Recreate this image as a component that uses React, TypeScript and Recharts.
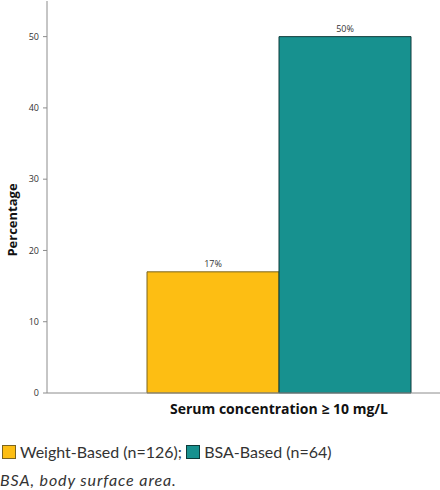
import React from 'react';
import { BarChart, Bar, XAxis, YAxis, LabelList } from 'recharts';

const categories = ['Serum concentration ≥ 10 mg/L'];
const weightBased = [17];
const bsaBased = [50];
const yTicks = [0, 10, 20, 30, 40, 50];
const seriesNames = ['Weight-Based (n=126);', 'BSA-Based (n=64)'];

const data = categories.map((c, i) => ({ name: c, weight: weightBased[i], bsa: bsaBased[i] }));

const YELLOW = '#FDBE13';
const TEAL = '#17918F';

const Swatch: React.FC<{ color: string; border: string }> = ({ color, border }) => (
  <span
    style={{
      display: 'inline-block',
      width: 12,
      height: 12,
      background: color,
      border: `1px solid ${border}`,
      marginRight: 4,
      verticalAlign: -1,
    }}
  />
);

const YLabel = () => (
  <text
    x={12}
    y={220}
    transform="rotate(-90 12 220)"
    textAnchor="middle"
    dominantBaseline="central"
    style={{ fontFamily: 'Open Sans', fontWeight: 700, fontSize: 13, fill: '#111' }}
  >
    Percentage
  </text>
);

export default function App() {
  return (
    <div style={{ position: 'absolute', left: 0, top: 0, width: 440, height: 490, overflow: 'hidden', background: '#fff' }}>
      <BarChart
        width={511}
        height={423}
        data={data}
        margin={{ top: 1, right: 0, bottom: 0, left: 0 }}
        barGap={0}
        barCategoryGap={100}
      >
        <YAxis
          width={47}
          domain={[0, 55]}
          ticks={yTicks}
          tickSize={4}
          tickMargin={4}
          axisLine={{ stroke: '#8c8c8c' }}
          tickLine={{ stroke: '#8c8c8c' }}
          tick={{ fill: '#333', fontSize: 9, fontFamily: 'Open Sans' }}
          label={<YLabel />}
        />
        <XAxis
          dataKey="name"
          height={30}
          axisLine={{ stroke: '#8c8c8c' }}
          tickLine={false}
          tick={{ fill: '#111', fontSize: 14, fontWeight: 700, fontFamily: 'Open Sans' }}
          tickMargin={5}
        />
        <Bar dataKey="weight" fill={YELLOW} stroke="#7a6420" strokeWidth={1} barSize={132} isAnimationActive={false}>
          <LabelList dataKey="weight" position="top" offset={5} formatter={(v: any) => `${v}%`} style={{ fill: '#333', fontSize: 9, fontFamily: 'Open Sans' }} />
        </Bar>
        <Bar dataKey="bsa" fill={TEAL} stroke="#0d3b3a" strokeWidth={1} barSize={132} isAnimationActive={false}>
          <LabelList dataKey="bsa" position="top" offset={5} formatter={(v: any) => `${v}%`} style={{ fill: '#333', fontSize: 9, fontFamily: 'Open Sans' }} />
        </Bar>
      </BarChart>
      <div style={{ position: 'absolute', left: 2, top: 442, fontFamily: 'Lato', fontSize: 16, color: '#333', whiteSpace: 'nowrap' }}>
        <Swatch color={YELLOW} border="#7a6420" />
        {seriesNames[0]} <Swatch color={TEAL} border="#0d3b3a" />
        {seriesNames[1]}
      </div>
      <div style={{ position: 'absolute', left: 0, top: 470, fontFamily: 'Lato', fontStyle: 'italic', fontSize: 16, letterSpacing: 0.9, color: '#333', whiteSpace: 'nowrap' }}>
        BSA, body surface area.
      </div>
    </div>
  );
}
